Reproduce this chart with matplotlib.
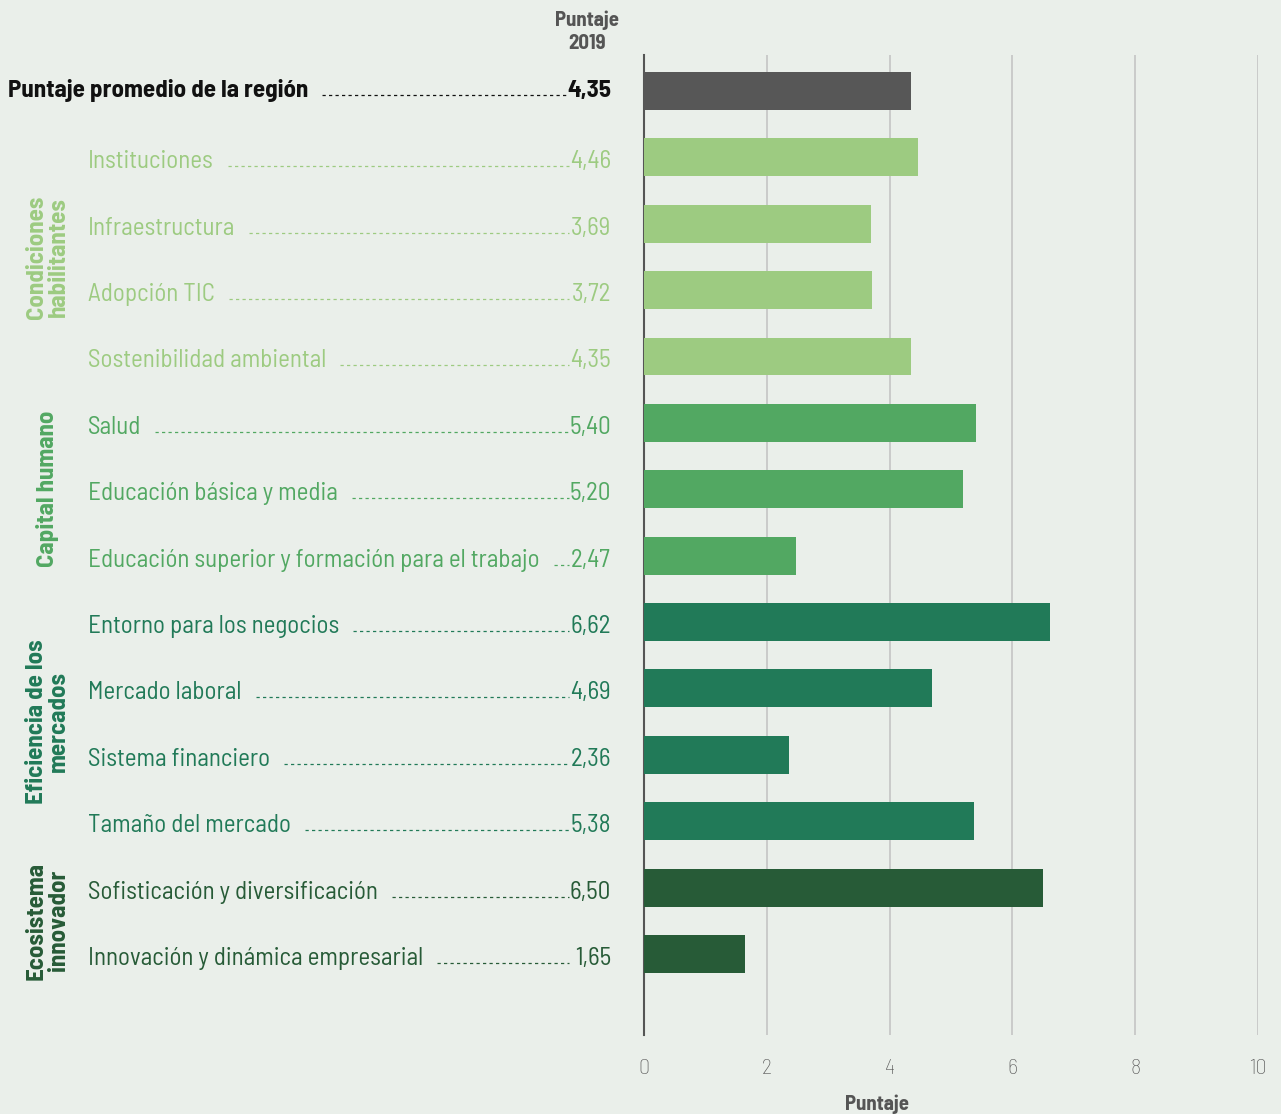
import matplotlib
matplotlib.use("Agg")
import matplotlib.pyplot as plt
from matplotlib.lines import Line2D

labels = ["Puntaje promedio de la región", "Instituciones", "Infraestructura", "Adopción TIC",
          "Sostenibilidad ambiental", "Salud", "Educación básica y media",
          "Educación superior y formación para el trabajo", "Entorno para los negocios",
          "Mercado laboral", "Sistema financiero", "Tamaño del mercado",
          "Sofisticación y diversificación", "Innovación y dinámica empresarial"]
values = [4.35, 4.46, 3.69, 3.72, 4.35, 5.40, 5.20, 2.47, 6.62, 4.69, 2.36, 5.38, 6.50, 1.65]
value_labels = ["4,35", "4,46", "3,69", "3,72", "4,35", "5,40", "5,20", "2,47", "6,62",
                "4,69", "2,36", "5,38", "6,50", "1,65"]
groups = ["Condiciones\nhabilitantes", "Capital humano", "Eficiencia de los\nmercados",
          "Ecosistema\ninnovador"]
group_rows = [(1, 4), (5, 7), (8, 11), (12, 13)]
xticks = [0, 2, 4, 6, 8, 10]

BG = "#EAEFEA"
group_colors = ["#9DCB81", "#52A862", "#217A58", "#275B37"]
row_colors = ["#575757"]
for (a, b), c in zip(group_rows, group_colors):
    row_colors += [c] * (b - a + 1)
text_colors = ["#111111"] + row_colors[1:]

FONT = ["Barlow Semi Condensed", "Archivo Narrow", "DejaVu Sans"]
plt.rcParams["font.family"] = FONT

W, H = 1281, 1114
fig = plt.figure(figsize=(W / 100, H / 100), dpi=100, facecolor=BG)
ax = fig.add_axes([644 / W, 1 - 1035 / H, (1258 - 644) / W, (1035 - 55) / H], facecolor=BG)

n = len(values)
ax.barh(range(n), values, height=0.57, color=row_colors, zorder=3)
ax.set_xlim(0, 10)
ax.set_ylim(n - 1 + 1.22, -0.54)
ax.set_xticks(xticks)
ax.set_xticklabels([str(t) for t in xticks], color="#5A5A5A", fontsize=16, fontweight="light")
ax.tick_params(axis="x", length=0, pad=17)
ax.set_yticks([])
for s in ["top", "right", "bottom"]:
    ax.spines[s].set_visible(False)
ax.spines["left"].set_color("#555555")
ax.spines["left"].set_linewidth(1.5)
ax.xaxis.grid(True, color="#C4C4C4", linewidth=1.2, zorder=0)
ax.set_xlabel("Puntaje", fontsize=15, fontweight="bold", color="#555555")
ax.xaxis.set_label_coords((877 - 644) / (1258 - 644), -(1110 - 1035) / (1035 - 55))
ax.xaxis.label.set_va("baseline")

def fy(px):
    return 1 - px / H

def row_y(i):
    return fig.transFigure.inverted().transform(ax.transData.transform((0, i)))[1]

fig.canvas.draw()
renderer = fig.canvas.get_renderer()
for i in range(n):
    yc = row_y(i)
    bold = (i == 0)
    yb = yc - (6.5 if bold else 11) / H
    t = fig.text(88 / W if i > 0 else 8 / W, yb, labels[i], ha="left", va="baseline",
                 fontsize=18, fontweight="bold" if bold else "normal",
                 color=text_colors[i])
    fig.text(611 / W, yb, value_labels[i], ha="right", va="baseline", fontsize=18,
             fontweight="bold" if bold else "normal", color=text_colors[i])
    bb = t.get_window_extent(renderer)
    x0 = (bb.x1 + 14) / W
    x1 = 569 / W
    fig.add_artist(Line2D([x0, x1], [yb + 2 / H, yb + 2 / H], transform=fig.transFigure,
                          color=text_colors[i], linewidth=0.9, linestyle=(0, (2.6, 2.6))))

for g, (a, b), c in zip(groups, group_rows, group_colors):
    ymid = (row_y(a) + row_y(b)) / 2
    fig.text(48 / W, ymid, g, rotation=90, ha="center", va="center", fontsize=18,
             fontweight="bold", color=c, multialignment="center", linespacing=1.0)

fig.text(587 / W, fy(32), "Puntaje\n2019", ha="center", va="center", fontsize=15,
         fontweight="bold", color="#555555", multialignment="center", linespacing=1.25)

fig.savefig("out.png", dpi=100, facecolor=BG)
